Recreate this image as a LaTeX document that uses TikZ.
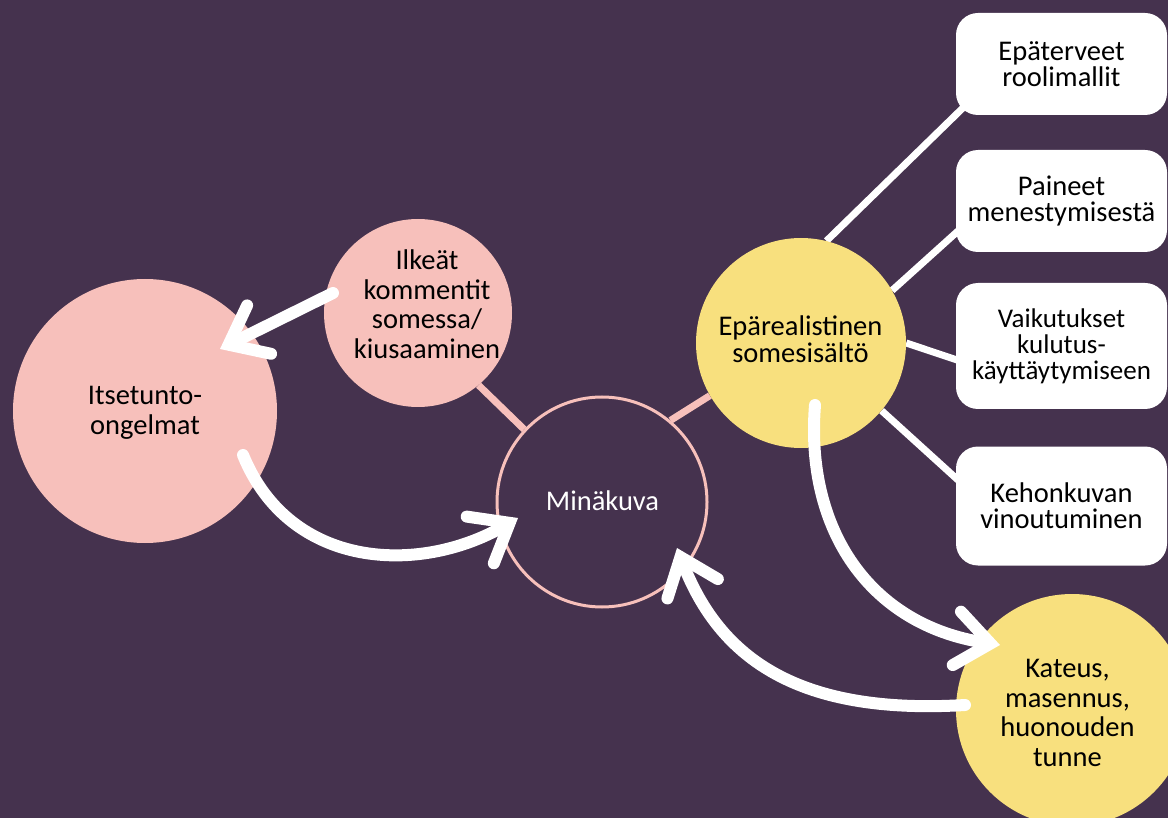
\documentclass[tikz,border=0pt]{standalone}
\usepackage{fontspec}
\setmainfont{Carlito}
\usetikzlibrary{arrows.meta,calc}
\definecolor{bgc}{HTML}{45324E}
\definecolor{pinkc}{HTML}{F7C0BB}
\definecolor{yelc}{HTML}{F8E07E}
\pgfdeclarelayer{back}
\pgfsetlayers{back,main}
\begin{document}
\begin{tikzpicture}[x=1pt,y=-1pt,
  circ/.style={circle,inner sep=0pt,minimum size=#1},
  txt/.style={align=center,font=\fontsize{28.5}{29.5}\selectfont,text=black,inner sep=0pt},
  boxtxt/.style={align=center,font=\fontsize{28.5}{26}\selectfont,text=black},
  box/.style={fill=white,rounded corners=22pt,minimum width=211pt,minimum height=#1,inner sep=0pt},
  link/.style={white,line width=7pt},
  plink/.style={pinkc,line width=7pt},
  bigarrow/.style={white,line width=12pt,line cap=round,
    -{Straight Barb[length=34pt,width=54pt,line cap=round]}}]
\useasboundingbox (0,0) rectangle (1168,818);
% circles
\node[circ=264pt,fill=pinkc] (its) at (145,411) {};
\node[circ=188pt,fill=pinkc] (ilk) at (418,313) {};
\node[circ=210pt,draw=pinkc,line width=3pt] (min) at (602,502) {};
\node[circ=210pt,fill=yelc] (epa) at (801,343) {};
\node[circ=232pt,fill=yelc] (kat) at (1072,710) {};
% boxes
\node[box=102pt,boxtxt] (b1) at (1061.5,64) {Epäterveet\\roolimallit};
\node[box=102pt,boxtxt] (b2) at (1061.5,201) {Paineet\\menestymisestä};
\node[box=126pt,boxtxt,font=\fontsize{27}{26}\selectfont] (b3) at (1061.5,346) {Vaikutukset\\kulutus-\\käyttäytymiseen};
\node[box=119pt,boxtxt] (b4) at (1061.5,506) {Kehonkuvan\\vinoutuminen};
% texts
\node[txt] (itsT) at (145,413) {Itsetunto-\\ongelmat};
\node[txt] (ilkT) at (427,304) {Ilkeät\\kommentit\\somessa/\\kiusaaminen};
\node[txt,text=white] (minT) at (602.5,501) {Minäkuva};
\node[txt,font=\fontsize{28.5}{27.5}\selectfont] (epaT) at (800.5,339) {Epärealistinen\\somesisältö};
\node[txt] (katT) at (1067.5,713) {Kateus,\\masennus,\\huonouden\\tunne};
% link end points
\coordinate (l1) at (970,101);
\coordinate (l2) at (970,220.2);
\coordinate (l3) at (970,364.3);
\coordinate (l4) at (970,490.9);
\begin{pgfonlayer}{back}
\fill[bgc] (0,0) rectangle (1168,818);
\draw[link] (epa.76) -- (l1);
\draw[link] (epa.30.6) -- (l2);
\draw[link] (epa.0) -- (l3);
\draw[link] (epa.320.3) -- (l4);
\draw[plink] (ilk.310) -- (min.137);
\draw[plink] (epa.210.6) -- (min.50);
\end{pgfonlayer}
% arrows
\coordinate (a1s) at (333,293);
\coordinate (a1e) at (220,349);
\coordinate (a2s) at (243,455);
\coordinate (a2e) at (518,518);
\coordinate (a3s) at (815,405);
\coordinate (a3e) at (1000,645);
\coordinate (a4s) at (965,705);
\coordinate (a4e) at (677,548);
\draw[bigarrow] (a1s) -- (a1e);
\draw[bigarrow] (a2s) .. controls (290,570) and (420,575) .. (a2e);
\draw[bigarrow] (a3s) .. controls (805,530) and (870,625) .. (a3e);
\draw[bigarrow] (a4s) .. controls (800,715) and (720,660) .. (a4e);
\end{tikzpicture}
\end{document}
